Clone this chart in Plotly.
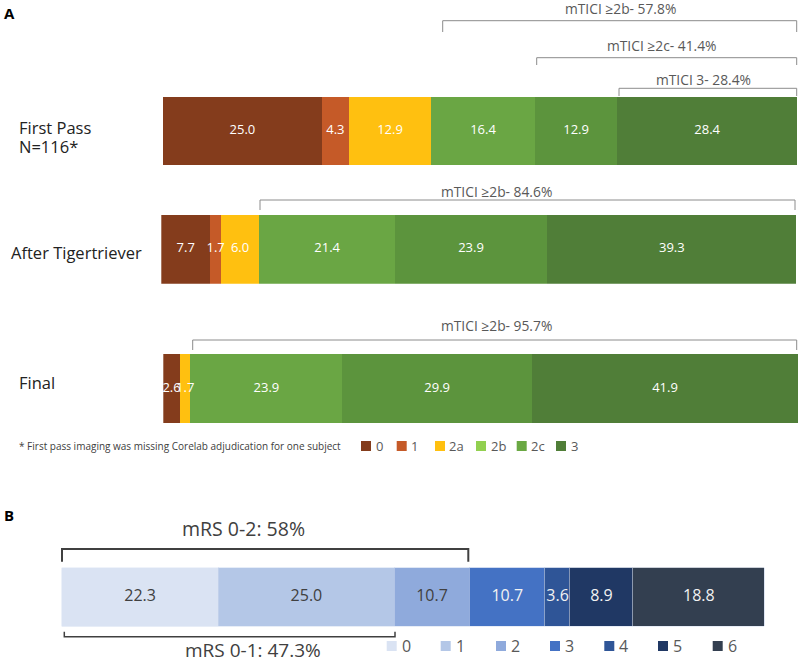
import numpy as np
import plotly.graph_objects as go

# ---------------- data ----------------
tici_categories = ["0", "1", "2a", "2b", "2c", "3"]
tici_rows = ["First Pass", "After Tigertriever", "Final"]
first_pass = [25.0, 4.3, 12.9, 16.4, 12.9, 28.4]
after_tigertriever = [7.7, 1.7, 6.0, 21.4, 23.9, 39.3]
final = [2.6, 0.0, 1.7, 23.9, 29.9, 41.9]
tici_values = [first_pass, after_tigertriever, final]

mrs_categories = ["0", "1", "2", "3", "4", "5", "6"]
mrs_values = [22.3, 25.0, 10.7, 10.7, 3.6, 8.9, 18.8]

tici_bracket_labels = ["mTICI ≥2b- 57.8%", "mTICI ≥2c- 41.4%", "mTICI 3- 28.4%",
                       "mTICI ≥2b- 84.6%", "mTICI ≥2b- 95.7%"]
mrs_bracket_labels = ["mRS 0-2: 58%", "mRS 0-1: 47.3%"]
footnote = "* First pass imaging was missing Corelab adjudication for one subject"

# ---------------- styles ----------------
W, H = 800, 664
FONT = "Open Sans"
tici_bar_colors = ["#843C1C", "#C55A28", "#FFC010", "#6AA644", "#5C943D", "#507E38"]
tici_legend_colors = ["#843C1C", "#C55A28", "#FFC010", "#92D050", "#6AA843", "#507E38"]
mrs_colors = ["#DAE3F3", "#B4C7E7", "#8FAADC", "#4472C4", "#2F5597", "#203864", "#333F50"]
mrs_text_colors = ["#404040", "#404040", "#404040", "#F2F2F2", "#F2F2F2", "#F2F2F2", "#F2F2F2"]


def px(x):
    return x / W


def py(y):
    return 1 - y / H


# pixel extents of each bar panel: (x0, x1, ytop, ybottom)
row_boxes = [(163, 798, 97, 165), (161.3, 796.7, 214.7, 283.7), (163.3, 798, 354, 423)]
mrs_box = (61.7, 765, 567.7, 626.7)

fig = go.Figure()
layout_axes = {}

for i, (row, vals) in enumerate(zip(tici_rows, tici_values)):
    n = i + 1
    xa = "x" if n == 1 else f"x{n}"
    ya = "y" if n == 1 else f"y{n}"
    for cat, v, col in zip(tici_categories, vals, tici_bar_colors):
        fig.add_trace(go.Bar(
            x=[v], y=[row], orientation="h", name=cat,
            marker=dict(color=col, line=dict(width=0)),
            xaxis=xa, yaxis=ya, hoverinfo="skip", showlegend=False))
    arr = np.array(vals)
    mids = np.cumsum(arr) - arr / 2
    fig.add_trace(go.Scatter(
        x=mids, y=[row] * len(arr), mode="text",
        text=[f"{v:.1f}" if v > 0 else "" for v in arr],
        textfont=dict(color="white", size=13, family=FONT),
        xaxis=xa, yaxis=ya, hoverinfo="skip", showlegend=False, cliponaxis=False))
    x0, x1, yt, yb = row_boxes[i]
    layout_axes["xaxis" if n == 1 else f"xaxis{n}"] = dict(
        domain=[px(x0), px(x1)], range=[0, 100], visible=False, anchor=ya, fixedrange=True)
    layout_axes["yaxis" if n == 1 else f"yaxis{n}"] = dict(
        domain=[py(yb), py(yt)], range=[-0.5, 0.5], visible=False, anchor=xa,
        type="category", fixedrange=True)

for cat, v, col in zip(mrs_categories, mrs_values, mrs_colors):
    fig.add_trace(go.Bar(
        x=[v], y=["mRS"], orientation="h", name=cat,
        marker=dict(color=col, line=dict(width=0.6, color="#C9D5EC")),
        xaxis="x4", yaxis="y4", hoverinfo="skip", showlegend=False))
marr = np.array(mrs_values)
fig.add_trace(go.Scatter(
    x=np.cumsum(marr) - marr / 2, y=["mRS"] * len(marr), mode="text",
    text=[f"{v:.1f}" for v in marr],
    textfont=dict(color=mrs_text_colors, size=16, family=FONT),
    xaxis="x4", yaxis="y4", hoverinfo="skip", showlegend=False, cliponaxis=False))
x0, x1, yt, yb = mrs_box
layout_axes["xaxis4"] = dict(domain=[px(x0), px(x1)], range=[0, 100], visible=False,
                             anchor="y4", fixedrange=True)
layout_axes["yaxis4"] = dict(domain=[py(yb), py(yt)], range=[-0.5, 0.5], visible=False,
                             anchor="x4", type="category", fixedrange=True)

shapes = []
annotations = []


def bracket(xl, xr, ytop, ybot, color, width):
    shapes.append(dict(
        type="path", xref="paper", yref="paper",
        path=f"M {px(xl)},{py(ybot)} L {px(xl)},{py(ytop)} L {px(xr)},{py(ytop)} L {px(xr)},{py(ybot)}",
        line=dict(color=color, width=width)))


def text(s, x, y, size, color="#595959", xanchor="center", bold=False):
    annotations.append(dict(
        text=f"<b>{s}</b>" if bold else s, x=px(x), y=py(y), xref="paper", yref="paper",
        xanchor=xanchor, yanchor="middle", showarrow=False,
        font=dict(size=size, color=color, family=FONT)))


# panel A brackets
tici_brackets = [(442.7, 796.7, 20.7, 32, 620, 9),
                 (536.7, 796.7, 57.7, 65, 661.7, 46),
                 (619, 796.7, 88.3, 96, 703.3, 80),
                 (260, 795, 200, 210, 496, 191),
                 (192.7, 796.7, 340, 350, 496, 325.5)]
for lab, (xl, xr, yt, yb, tx, ty) in zip(tici_bracket_labels, tici_brackets):
    bracket(xl, xr, yt, yb, "#8C8C8C", 1)
    text(lab, tx, ty, 13.8)

# panel B brackets
bracket(62, 468.3, 549, 561.7, "#404040", 2)
bracket(64.3, 395, 636.7, 631.7, "#404040", 1.5)
text(mrs_bracket_labels[0], 243.5, 528, 19.5, "#404040")
text(mrs_bracket_labels[1], 253, 650, 19, "#404040")

# panel letters and row labels
text("A", 2, 12.5, 15, "#000000", "left", True)
text("B", 2, 515, 15, "#000000", "left", True)
text("First Pass", 17, 128, 16.5, "#222222", "left")
text("N=116*", 17, 147, 16.5, "#222222", "left")
text("After Tigertriever", 9, 252, 16.5, "#222222", "left")
text("Final", 17, 382, 16.5, "#222222", "left")
text(footnote, 17, 446, 10, "#404040", "left")

# legend A
tici_legend_x = [361, 396.7, 435, 476, 516.7, 556]
for cat, col, lx in zip(tici_categories, tici_legend_colors, tici_legend_x):
    shapes.append(dict(type="rect", xref="paper", yref="paper",
                       x0=px(lx), x1=px(lx + 10), y0=py(451), y1=py(441),
                       fillcolor=col, line=dict(width=0)))
    text(cat, lx + 12.5, 446, 13, "#595959", "left")

# legend B
mrs_legend_x = [386.7, 440.7, 496, 550, 604.3, 658, 712.7]
for cat, col, lx in zip(mrs_categories, mrs_colors, mrs_legend_x):
    shapes.append(dict(type="rect", xref="paper", yref="paper",
                       x0=px(lx), x1=px(lx + 10), y0=py(651), y1=py(641),
                       fillcolor=col, line=dict(width=0)))
    text(cat, lx + 13, 646, 16, "#595959", "left")

fig.update_layout(
    width=W, height=H, margin=dict(l=0, r=0, t=0, b=0),
    paper_bgcolor="white", plot_bgcolor="white",
    barmode="stack", bargap=0, showlegend=False,
    font=dict(family=FONT),
    shapes=shapes, annotations=annotations,
    **layout_axes)

fig.write_html("out.html", config={"displayModeBar": False},
               post_script="document.body.style.margin='0px';document.body.style.overflow='hidden';")
